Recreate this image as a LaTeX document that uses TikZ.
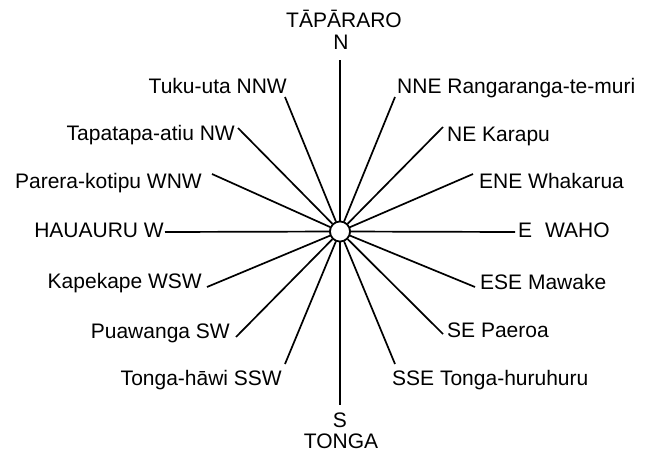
\documentclass[tikz,border=0pt]{standalone}
\usepackage{fontspec}
\setmainfont{Liberation Sans}
\begin{document}
\begin{tikzpicture}[x=1pt,y=-1pt,
  ray/.style={line width=1.7pt},
  hub/.style={circle,draw,line width=1.7pt,fill=white,minimum size=20pt,inner sep=0pt},
  lab/.style={inner sep=0pt,font=\fontsize{21}{25}\selectfont}]
\useasboundingbox (0,0) rectangle (646,452);
\node[hub] (c) at (340,231.5) {};
% ray end points
\coordinate (eN)   at (340,60);
\coordinate (eNNE) at (395,97);
\coordinate (eNE)  at (443,127);
\coordinate (eENE) at (473,174);
\coordinate (eE)   at (515,232);
\coordinate (eESE) at (475,287);
\coordinate (eSE)  at (443,334);
\coordinate (eSSE) at (395,364);
\coordinate (eS)   at (340,405);
\coordinate (eSSW) at (285,364);
\coordinate (eSW)  at (236,337);
\coordinate (eWSW) at (207,287);
\coordinate (eW)   at (165,232);
\coordinate (eWNW) at (212,174);
\coordinate (eNW)  at (238,128);
\coordinate (eNNW) at (285,97);
\foreach \d in {N,NNE,NE,ENE,E,ESE,SE,SSE,S,SSW,SW,WSW,W,WNW,NW,NNW}
  \draw[ray] (c) -- (e\d);
\node[hub] at (c) {};
% labels
\node[lab,anchor=base] (lN) at (341,50) {N};
\node[lab,anchor=base] (lTap) at (344,28) {TĀPĀRARO};
\node[lab,anchor=base] (lS) at (340,427) {S};
\node[lab,anchor=base] (lTon) at (341,448) {TONGA};
\node[lab,anchor=base west] (lE) at (518,237.5) {E\hspace{7pt} WAHO};
\node[lab,anchor=base east] (lW) at (164,237.5) {HAUAURU W};
\node[lab,anchor=base west] (lNNE) at (397,93.5) {NNE Rangaranga-te-muri};
\node[lab,anchor=base west] (lNE) at (447,141.5) {NE Karapu};
\node[lab,anchor=base west] (lENE) at (479,188.5) {ENE Whakarua};
\node[lab,anchor=base west] (lESE) at (480,289) {ESE Mawake};
\node[lab,anchor=base west] (lSE) at (447,337) {SE Paeroa};
\node[lab,anchor=base west] (lSSE) at (392,385) {SSE Tonga-huruhuru};
\node[lab,anchor=base east] (lNNW) at (287,93.5) {Tuku-uta NNW};
\node[lab,anchor=base east] (lNW) at (235,140) {Tapatapa-atiu NW};
\node[lab,anchor=base east] (lWNW) at (202,188.5) {Parera-kotipu WNW};
\node[lab,anchor=base east] (lWSW) at (202,288.5) {Kapekape WSW};
\node[lab,anchor=base east] (lSW) at (230,338) {Puawanga SW};
\node[lab,anchor=base east] (lSSW) at (282,385) {Tonga-hāwi SSW};
\end{tikzpicture}
\end{document}
